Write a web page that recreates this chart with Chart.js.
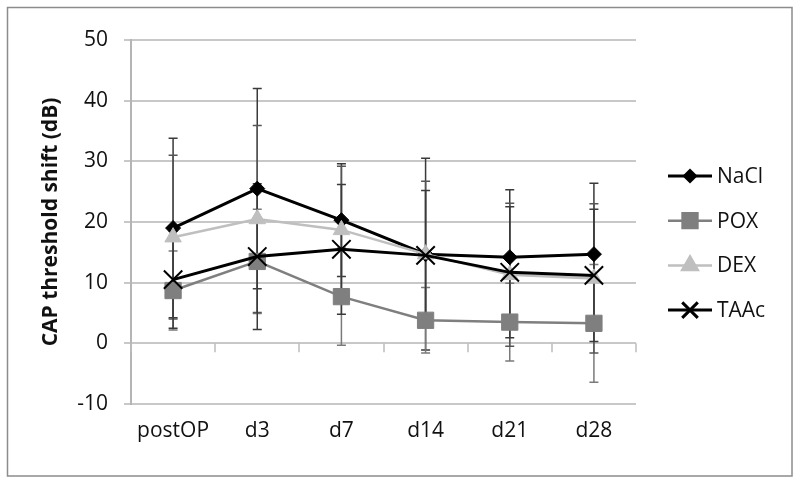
<!DOCTYPE html>
<html><head><meta charset="utf-8">
<script src="https://cdn.jsdelivr.net/npm/chart.js@4"></script>
<style>html,body{margin:0;padding:0;background:#fff}#wrap{width:800px;height:483px;position:relative}</style>
</head><body><div id="wrap"><canvas id="c" width="800" height="483"></canvas></div>
<script>
const categories = ['postOP','d3','d7','d14','d21','d28'];
const seriesNames = ['NaCl','POX','DEX','TAAc'];
const naclMean = [19.0, 25.5, 20.3, 14.7, 14.2, 14.7];
const naclSD   = [14.8, 16.5, 9.3, 15.8, 11.1, 11.7];
const poxMean  = [8.7, 13.5, 7.7, 3.8, 3.5, 3.3];
const poxSD    = [6.5, 8.6, 8.0, 5.4, 6.4, 9.7];
const dexMean  = [17.5, 20.5, 18.7, 14.7, 11.3, 10.7];
const dexSD    = [13.5, 15.4, 10.5, 12.0, 11.8, 12.3];
const taacMean = [10.5, 14.3, 15.5, 14.5, 11.7, 11.2];
const taacSD   = [8.0, 12.0, 10.7, 10.7, 10.8, 10.9];
const yTicks = [-10, 0, 10, 20, 30, 40, 50];
const yTitle = 'CAP threshold shift (dB)';

const FONT = "'Open Sans', sans-serif";
const TXT = '#111';

const frame = {
  id: 'frame',
  beforeDraw(chart) {
    const ctx = chart.ctx;
    ctx.save();
    ctx.fillStyle = '#fff';
    ctx.fillRect(0, 0, chart.width, chart.height);
    ctx.strokeStyle = '#8c8c8c';
    ctx.lineWidth = 1.5;
    ctx.strokeRect(7.5, 7.5, chart.width - 15.5, chart.height - 14.5);
    ctx.restore();
  }
};

const zeroTicks = {
  id: 'zeroTicks',
  beforeDatasetsDraw(chart) {
    const {ctx, scales: {x, y}} = chart;
    const y0 = y.getPixelForValue(0);
    ctx.save();
    ctx.strokeStyle = '#bdbdbd';
    ctx.lineWidth = 1.5;
    ctx.beginPath();
    for (let i = 0; i <= categories.length; i++) {
      const px = Math.round(x.getPixelForValue(i - 0.5));
      ctx.moveTo(px, y0);
      ctx.lineTo(px, y0 + 9);
    }
    ctx.stroke();
    ctx.restore();
  }
};

const errorBars = {
  id: 'errorBars',
  beforeDatasetsDraw(chart) {
    const {ctx, scales: {x, y}} = chart;
    chart.data.datasets.forEach((ds, i) => {
      if (!chart.isDatasetVisible(i)) return;
      ctx.save();
      ctx.strokeStyle = ds.errorColor;
      ctx.lineWidth = 1.5;
      ctx.beginPath();
      ds.data.forEach((v, j) => {
        const sd = ds.errorData[j];
        const px = x.getPixelForValue(j);
        const top = y.getPixelForValue(v + sd);
        const bot = y.getPixelForValue(v - sd);
        ctx.moveTo(px, top); ctx.lineTo(px, bot);
        ctx.moveTo(px - 4.5, top); ctx.lineTo(px + 4.5, top);
        ctx.moveTo(px - 4.5, bot); ctx.lineTo(px + 4.5, bot);
      });
      ctx.stroke();
      ctx.restore();
    });
  }
};

const customLegend = {
  id: 'customLegend',
  afterDraw(chart) {
    const ctx = chart.ctx;
    const x0 = chart.chartArea.right + 32;
    const y0 = 176;
    const gap = 44.7;
    chart.data.datasets.forEach((ds, i) => {
      const cy = y0 + i * gap;
      ctx.save();
      ctx.strokeStyle = ds.borderColor;
      ctx.lineWidth = ds.borderWidth;
      ctx.beginPath();
      ctx.moveTo(x0, cy); ctx.lineTo(x0 + 44, cy);
      ctx.stroke();
      ctx.fillStyle = ds.pointBackgroundColor;
      ctx.strokeStyle = ds.pointBorderColor;
      Chart.helpers.drawPoint(ctx, {pointStyle: ds.pointStyle, rotation: 0, radius: ds.legendRadius, borderWidth: ds.pointBorderWidth}, x0 + 22, cy);
      ctx.fillStyle = TXT;
      ctx.font = '21px ' + FONT;
      ctx.textBaseline = 'middle';
      ctx.textAlign = 'left';
      ctx.fillText(ds.label, x0 + 49, cy + 1);
      ctx.restore();
    });
  }
};

function mk(label, data, err, color, ptStyle, radius, lw, errColor, legendRadius, order, ptBorder) {
  return {
    label, data, errorData: err, errorColor: errColor,
    borderColor: color, backgroundColor: color, borderWidth: lw,
    pointStyle: ptStyle, pointRadius: radius, pointHoverRadius: radius,
    pointBackgroundColor: color, pointBorderColor: color, pointBorderWidth: ptBorder,
    legendRadius, order, tension: 0, fill: false
  };
}

new Chart(document.getElementById('c'), {
  type: 'line',
  data: {
    labels: categories,
    datasets: [
      mk(seriesNames[0], naclMean, naclSD, '#000000', 'rectRot', 7.5, 3, '#3a3a3a', 5.5, 4, 1),
      mk(seriesNames[1], poxMean, poxSD, '#7f7f7f', 'rect', 11.5, 2.5, '#7a7a7a', 10.5, 3, 1),
      mk(seriesNames[2], dexMean, dexSD, '#bfbfbf', 'triangle', 9.5, 2.5, '#555555', 9, 2, 1),
      mk(seriesNames[3], taacMean, taacSD, '#000000', 'crossRot', 13, 3, '#3a3a3a', 11, 1, 2)
    ]
  },
  options: {
    responsive: false,
    animation: false,
    devicePixelRatio: 1,
    layout: {padding: {left: 0, right: 164, top: 40, bottom: 0}},
    plugins: {legend: {display: false}, tooltip: {enabled: false}},
    scales: {
      x: {
        type: 'category',
        offset: true,
        grid: {display: false, drawTicks: false},
        border: {display: false},
        ticks: {font: {family: FONT, size: 21}, color: TXT, padding: 14, maxRotation: 0, autoSkip: false},
        afterFit(s) { s.height = 79; }
      },
      y: {
        min: -10, max: 50,
        afterBuildTicks(s) { s.ticks = yTicks.map(v => ({value: v})); },
        grid: {color: '#c8c8c8', lineWidth: 2, tickLength: 7, tickColor: '#c8c8c8'},
        border: {display: true, color: '#b5b5b5', width: 2},
        ticks: {font: {family: FONT, size: 21}, color: TXT, padding: 16},
        title: {display: true, text: yTitle, font: {family: FONT, size: 21, weight: 'bold'}, color: TXT, padding: {top: 38, bottom: 0}},
        afterFit(s) { s.width = 131; }
      }
    }
  },
  plugins: [frame, zeroTicks, errorBars, customLegend]
});
</script></body></html>
